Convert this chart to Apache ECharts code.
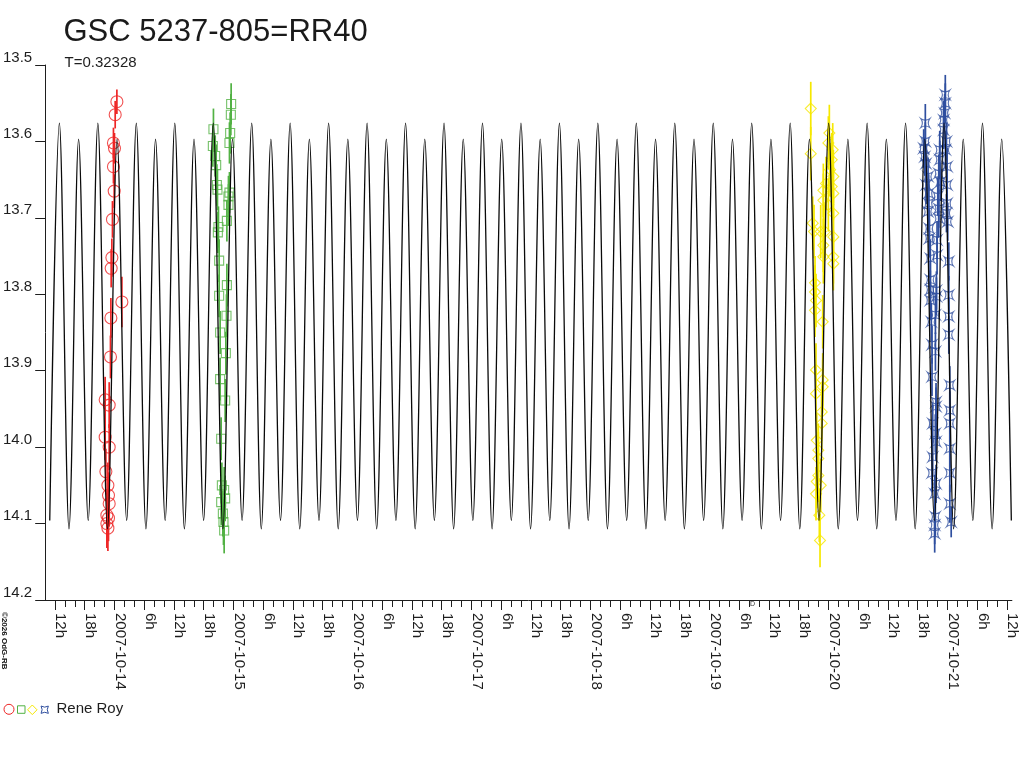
<!DOCTYPE html>
<html>
<head>
<meta charset="utf-8">
<script src="https://cdn.jsdelivr.net/npm/echarts@6/dist/echarts.min.js"></script>
<style>html,body{margin:0;padding:0;background:#fff}#c{width:1024px;height:768px}</style>
</head>
<body>
<div id="c"></div>
<script>
// ---------- texts ----------
const TITLE = 'GSC 5237-805=RR40';
const SUBTITLE = 'T=0.32328';
const OBSERVER = 'Rene Roy';
const CREDIT = '\u00a92026 OdG-RB';

// ---------- axes ----------
const X_START = Date.UTC(2007, 9, 13, 10, 0);   // axis start (UT)
const X_END = Date.UTC(2007, 9, 21, 13, 0);     // axis end (UT)
const X_LABEL_FIRST = Date.UTC(2007, 9, 13, 12, 0);
const X_LABEL_LAST = Date.UTC(2007, 9, 21, 12, 0);
const X_TICK_FIRST = Date.UTC(2007, 9, 13, 12, 0);
const X_TICK_LAST = Date.UTC(2007, 9, 21, 12, 0);
const MAG_MIN = 13.5, MAG_MAX = 14.2, MAG_STEP = 0.1;

// ---------- model light curve (extrema) ----------
// hours since 2007-10-13 10:00 UT
const modelHours = [
  0.92,2.86,4.80,6.74,8.68,10.62,12.56,14.50,16.44,18.38,
  20.32,22.26,24.20,26.14,28.08,30.02,31.96,33.90,35.84,37.78,
  39.72,41.66,43.59,45.53,47.47,49.41,51.35,53.29,55.23,57.17,
  59.11,61.05,62.99,64.93,66.87,68.81,70.75,72.69,74.63,76.57,
  78.51,80.45,82.39,84.33,86.27,88.21,90.15,92.09,94.03,95.97,
  97.91,99.85,101.79,103.73,105.67,107.61,109.54,111.48,113.42,115.36,
  117.30,119.24,121.18,123.12,125.06,127.00,128.94,130.88,132.82,134.76,
  136.70,138.64,140.58,142.52,144.46,146.40,148.34,150.28,152.22,154.16,
  156.10,158.04,159.98,161.92,163.86,165.80,167.74,169.68,171.62,173.55,
  175.49,177.43,179.37,181.31,183.25,185.19,187.13,189.07,191.01,192.95,
  194.89
];
const modelMag = [
  14.096,13.576,14.107,13.597, 14.096,13.576,14.107,13.597,
  14.096,13.576,14.107,13.597, 14.096,13.576,14.107,13.597,
  14.096,13.576,14.107,13.597, 14.096,13.576,14.107,13.597,
  14.096,13.576,14.107,13.597, 14.096,13.576,14.107,13.597,
  14.096,13.576,14.107,13.597, 14.096,13.576,14.107,13.597,
  14.096,13.576,14.107,13.597, 14.096,13.576,14.107,13.597,
  14.096,13.576,14.107,13.597, 14.096,13.576,14.107,13.597,
  14.096,13.576,14.107,13.597, 14.096,13.576,14.107,13.597,
  14.096,13.576,14.107,13.597, 14.096,13.576,14.107,13.597,
  14.096,13.576,14.107,13.597, 14.096,13.576,14.107,13.597,
  14.096,13.576,14.107,13.597, 14.096,13.576,14.107,13.597,
  14.096,13.576,14.107,13.597, 14.096,13.576,14.107,13.597,
  14.096,13.576,14.107,13.597,
  14.096
];

// ---------- observations: [hours since start, magnitude, error] ----------
const redObs = [
  [14.46,13.548,0.016],[14.12,13.565,0.018],[13.77,13.602,0.020],[13.98,13.609,0.020],
  [13.77,13.633,0.022],[13.92,13.665,0.022],[13.57,13.702,0.024],[13.45,13.752,0.025],
  [13.31,13.766,0.025],[15.47,13.810,0.033],[13.25,13.831,0.026],[13.17,13.882,0.028],
  [12.10,13.938,0.030],[12.91,13.945,0.030],[12.10,13.987,0.030],[12.91,14.000,0.030],
  [12.24,14.032,0.030],[12.65,14.050,0.030],[12.77,14.063,0.030],[12.91,14.074,0.030],
  [12.44,14.089,0.030],[12.77,14.093,0.030],[12.44,14.100,0.032],[12.65,14.106,0.030]
];
const greenObs = [
  [37.51,13.551,0.027],[37.45,13.565,0.027],[37.31,13.589,0.027],[37.17,13.602,0.027],
  [33.94,13.584,0.027],[33.82,13.606,0.027],[34.29,13.619,0.027],[34.49,13.631,0.027],
  [34.63,13.657,0.027],[34.75,13.663,0.027],[37.17,13.667,0.027],[36.97,13.672,0.027],
  [36.97,13.683,0.027],[36.65,13.704,0.027],[34.95,13.712,0.027],[34.83,13.719,0.027],
  [35.09,13.756,0.028],[36.65,13.788,0.028],[35.09,13.802,0.028],[36.57,13.828,0.028],
  [35.29,13.850,0.028],[36.44,13.877,0.028],[35.29,13.911,0.028],[36.30,13.939,0.028],
  [35.50,13.989,0.028],[35.64,14.050,0.030],[36.10,14.056,0.030],[36.30,14.067,0.030],
  [35.50,14.072,0.030],[35.84,14.087,0.030],[35.96,14.098,0.030],[36.10,14.109,0.030]
];
const yellowObs = [
  [154.43,13.557,0.035],[154.43,13.616,0.035],[158.18,13.589,0.037],[157.98,13.602,0.035],
  [158.86,13.611,0.035],[158.66,13.624,0.035],[158.32,13.637,0.035],[158.99,13.646,0.035],
  [157.51,13.655,0.035],[158.66,13.659,0.035],[156.97,13.664,0.035],[158.99,13.668,0.035],
  [156.97,13.677,0.035],[157.98,13.683,0.035],[158.99,13.694,0.035],[154.83,13.707,0.035],
  [155.09,13.718,0.035],[156.44,13.718,0.035],[157.31,13.718,0.035],[158.99,13.725,0.035],
  [156.97,13.736,0.035],[156.97,13.751,0.035],[158.99,13.751,0.035],[158.99,13.760,0.035],
  [155.29,13.785,0.035],[155.29,13.797,0.035],[155.49,13.808,0.035],[155.29,13.821,0.035],
  [156.84,13.836,0.035],[155.49,13.899,0.035],[156.84,13.912,0.035],[156.84,13.921,0.035],
  [155.49,13.930,0.035],[156.64,13.954,0.035],[156.64,13.969,0.035],[155.64,13.991,0.035],
  [155.96,14.004,0.035],[155.96,14.015,0.035],[155.96,14.037,0.035],[155.64,14.045,0.035],
  [156.44,14.050,0.035],[155.49,14.061,0.035],[156.16,14.089,0.035],[156.30,14.122,0.035]
];
const blueObs = [
  [177.54,13.576,0.025],[177.54,13.600,0.025],[177.21,13.609,0.025],[177.42,13.620,0.025],
  [177.68,13.629,0.025],[178.09,13.646,0.025],[177.68,13.657,0.025],[178.22,13.668,0.025],
  [178.22,13.681,0.025],[178.09,13.692,0.025],[178.35,13.714,0.025],[178.35,13.727,0.025],
  [178.55,13.753,0.025],[178.55,13.781,0.025],[178.55,13.794,0.025],[178.55,13.808,0.025],
  [178.75,13.836,0.025],[178.89,13.866,0.025],[178.89,13.908,0.025],[179.70,13.941,0.025],
  [179.70,13.947,0.025],[179.03,13.969,0.025],[179.56,13.982,0.025],[179.70,13.993,0.025],
  [179.03,14.013,0.025],[178.89,14.034,0.025],[179.70,14.048,0.025],[179.43,14.061,0.025],
  [179.56,14.091,0.025],[179.43,14.102,0.025],[179.43,14.113,0.025],
  [181.57,13.539,0.026],[181.57,13.550,0.026],[181.44,13.563,0.025],[181.24,13.572,0.025],
  [181.24,13.585,0.025],[181.80,13.600,0.025],[181.60,13.611,0.025],[180.45,13.611,0.025],
  [180.45,13.624,0.025],[181.94,13.633,0.025],[180.25,13.642,0.025],[180.59,13.653,0.025],
  [181.94,13.657,0.025],[180.05,13.672,0.025],[181.94,13.681,0.025],[180.25,13.688,0.025],
  [181.80,13.694,0.025],[180.25,13.701,0.025],[182.07,13.705,0.025],[179.91,13.729,0.025],
  [179.91,13.749,0.025],[182.28,13.757,0.025],[179.78,13.795,0.025],[179.78,13.803,0.025],
  [179.58,13.827,0.025],[182.28,13.801,0.025],[182.28,13.829,0.025],[182.28,13.853,0.025],
  [179.58,13.875,0.025],[182.48,13.919,0.025],[182.48,13.952,0.025],[182.48,13.969,0.025],
  [182.48,14.002,0.025],[182.48,14.034,0.025],[182.48,14.074,0.025],[182.76,14.098,0.020]
];

// ---------- styling ----------
const COL_RED = '#ee2626', COL_GREEN = '#52b244', COL_YELLOW = '#f6e800', COL_BLUE = '#2f4f9f';
const COL_TEXT = '#1e1e1e';
const FONT = '"Liberation Sans", Arial, sans-serif';
const BLUE_SYMBOL = 'path://M0,0 Q5,3.5 10,0 Q6.5,5 10,10 Q5,6.5 0,10 Q3.5,5 0,0 Z';

const H = 3600000;
const toMs = h => X_START + h * H;
const PX_PER_DAY = 119;
const PLOT_LEFT = 45;
const pxOfSpan = (a, b) => (b - a) / (24 * H) * PX_PER_DAY;

function pad2(n) { return (n < 10 ? '0' : '') + n; }
function xLabel(v) {
  const d = new Date(v);
  const hh = d.getUTCHours();
  if (hh === 0) return d.getUTCFullYear() + '-' + pad2(d.getUTCMonth() + 1) + '-' + pad2(d.getUTCDate());
  return hh + 'h';
}

function errSeries(obs, color) {
  return {
    type: 'custom', xAxisIndex: 0, yAxisIndex: 0, silent: true, z: 2,
    data: obs.map(o => [toMs(o[0]), o[1], o[2]]),
    encode: { x: 0, y: 1 },
    renderItem: function (params, api) {
      const x = api.value(0), m = api.value(1), e = api.value(2);
      const p1 = api.coord([x, m - e]);
      const p2 = api.coord([x, m + e]);
      return { type: 'line', shape: { x1: p1[0], y1: p1[1], x2: p2[0], y2: p2[1] },
        style: { stroke: color, lineWidth: 1.7 } };
    }
  };
}
function ptSeries(obs, color, symbol, size) {
  return {
    type: 'scatter', xAxisIndex: 0, yAxisIndex: 0, z: 3, silent: true,
    symbol: symbol, symbolSize: size,
    itemStyle: { color: 'rgba(0,0,0,0)', borderColor: color, borderWidth: 1.1 },
    data: obs.map(o => [toMs(o[0]), o[1]])
  };
}

// small concave-square legend glyph built from quadratic curves
function blueGlyph(cx, cy, s, color) {
  const h = s / 2, k = s * 0.15;
  const L = cx - h, R = cx + h, T = cy - h, B = cy + h;
  const seg = (x1, y1, x2, y2, qx, qy) => ({ type: 'bezierCurve', silent: true,
    shape: { x1: x1, y1: y1, x2: x2, y2: y2, cpx1: qx, cpy1: qy },
    style: { fill: 'none', stroke: color, lineWidth: 1 } });
  return [
    seg(L, T, R, T, cx, T + k * 2),
    seg(R, T, R, B, R - k * 2, cy),
    seg(R, B, L, B, cx, B - k * 2),
    seg(L, B, L, T, L + k * 2, cy)
  ];
}

const chart = echarts.init(document.getElementById('c'), null, { renderer: 'canvas' });

const option = {
  animation: false,
  backgroundColor: '#ffffff',
  grid: [
    { left: PLOT_LEFT, top: 65, width: pxOfSpan(X_START, X_END), height: 535 },
    { left: PLOT_LEFT + pxOfSpan(X_START, X_TICK_FIRST), top: 65, width: pxOfSpan(X_TICK_FIRST, X_TICK_LAST), height: 535 },
    { left: PLOT_LEFT + pxOfSpan(X_START, X_LABEL_FIRST), top: 65, width: pxOfSpan(X_LABEL_FIRST, X_LABEL_LAST), height: 535 }
  ],
  xAxis: [
    { gridIndex: 0, type: 'value', min: X_START, max: X_END,
      axisLine: { show: true, lineStyle: { color: COL_TEXT, width: 1 } },
      axisTick: { show: false }, axisLabel: { show: false }, splitLine: { show: false } },
    { gridIndex: 1, type: 'value', min: X_TICK_FIRST, max: X_TICK_LAST, interval: 2 * H,
      axisLine: { show: false },
      axisTick: { show: true, length: 7, lineStyle: { color: COL_TEXT, width: 1 } },
      axisLabel: { show: false }, splitLine: { show: false } },
    { gridIndex: 2, type: 'value', min: X_LABEL_FIRST, max: X_LABEL_LAST, interval: 6 * H,
      axisLine: { show: false },
      axisTick: { show: true, length: 10, lineStyle: { color: COL_TEXT, width: 1 } },
      axisLabel: { show: true, rotate: -90, margin: 13, formatter: xLabel,
        align: 'left', verticalAlign: 'bottom', lineHeight: 11,
        fontFamily: FONT, fontSize: 15, color: COL_TEXT, hideOverlap: false },
      splitLine: { show: false } }
  ],
  yAxis: [
    { gridIndex: 0, type: 'value', inverse: true, min: MAG_MIN, max: MAG_MAX, interval: MAG_STEP,
      axisLine: { show: true, lineStyle: { color: COL_TEXT, width: 1 } },
      axisTick: { show: true, length: 10, lineStyle: { color: COL_TEXT, width: 1 } },
      axisLabel: { show: true, margin: 13, verticalAlign: 'bottom', fontFamily: FONT, fontSize: 15,
        color: COL_TEXT, formatter: v => v.toFixed(1) },
      splitLine: { show: false } },
    { gridIndex: 1, type: 'value', show: false, min: 0, max: 1 },
    { gridIndex: 2, type: 'value', show: false, min: 0, max: 1 }
  ],
  series: [
    errSeries(redObs, COL_RED),
    errSeries(greenObs, COL_GREEN),
    errSeries(yellowObs, COL_YELLOW),
    errSeries(blueObs, COL_BLUE),
    ptSeries(redObs, COL_RED, 'circle', 12),
    ptSeries(greenObs, COL_GREEN, 'rect', 9),
    ptSeries(yellowObs, COL_YELLOW, 'diamond', 11),
    ptSeries(blueObs, COL_BLUE, BLUE_SYMBOL, 9),
    {
      type: 'line', xAxisIndex: 0, yAxisIndex: 0, z: 4, silent: true,
      showSymbol: false, symbol: 'none',
      smooth: 0.333, smoothMonotone: 'x',
      lineStyle: { color: '#0a0a0a', width: 1.3 },
      data: modelHours.map((h, i) => [toMs(h), modelMag[i]])
    }
  ],
  graphic: [
    { type: 'text', x: 63.5, y: 32.8, silent: true,
      style: { text: TITLE, font: '31px ' + FONT, fill: '#1a1a1a', align: 'left', verticalAlign: 'middle' } },
    { type: 'text', x: 64.5, y: 62.5, silent: true,
      style: { text: SUBTITLE, font: '15px ' + FONT, fill: COL_TEXT, align: 'left', verticalAlign: 'middle' } },
    { type: 'text', x: 4.2, y: 612, rotation: -Math.PI / 2, silent: true,
      style: { text: CREDIT, font: 'bold 8px ' + FONT, fill: '#111', align: 'left', verticalAlign: 'middle' } },
    { type: 'text', x: 752.5, y: 604.5, silent: true,
      style: { text: 'D', font: '7px ' + FONT, fill: '#333', align: 'center', verticalAlign: 'middle' } },
    // legend
    { type: 'circle', silent: true, shape: { cx: 9, cy: 709.3, r: 5 },
      style: { fill: 'none', stroke: COL_RED, lineWidth: 1 } },
    { type: 'rect', silent: true, shape: { x: 17.5, y: 705.8, width: 7.5, height: 7.5 },
      style: { fill: 'none', stroke: COL_GREEN, lineWidth: 1 } },
    { type: 'polygon', silent: true, shape: { points: [[32.3, 705], [37, 709.8], [32.3, 714.6], [27.6, 709.8]] },
      style: { fill: 'none', stroke: COL_YELLOW, lineWidth: 1 } }
  ].concat(blueGlyph(44.7, 709.7, 7.3, COL_BLUE)).concat([
    { type: 'text', x: 56.5, y: 708.8, silent: true,
      style: { text: OBSERVER, font: '15px ' + FONT, fill: COL_TEXT, align: 'left', verticalAlign: 'middle' } }
  ])
};
chart.setOption(option);
</script>
</body>
</html>
